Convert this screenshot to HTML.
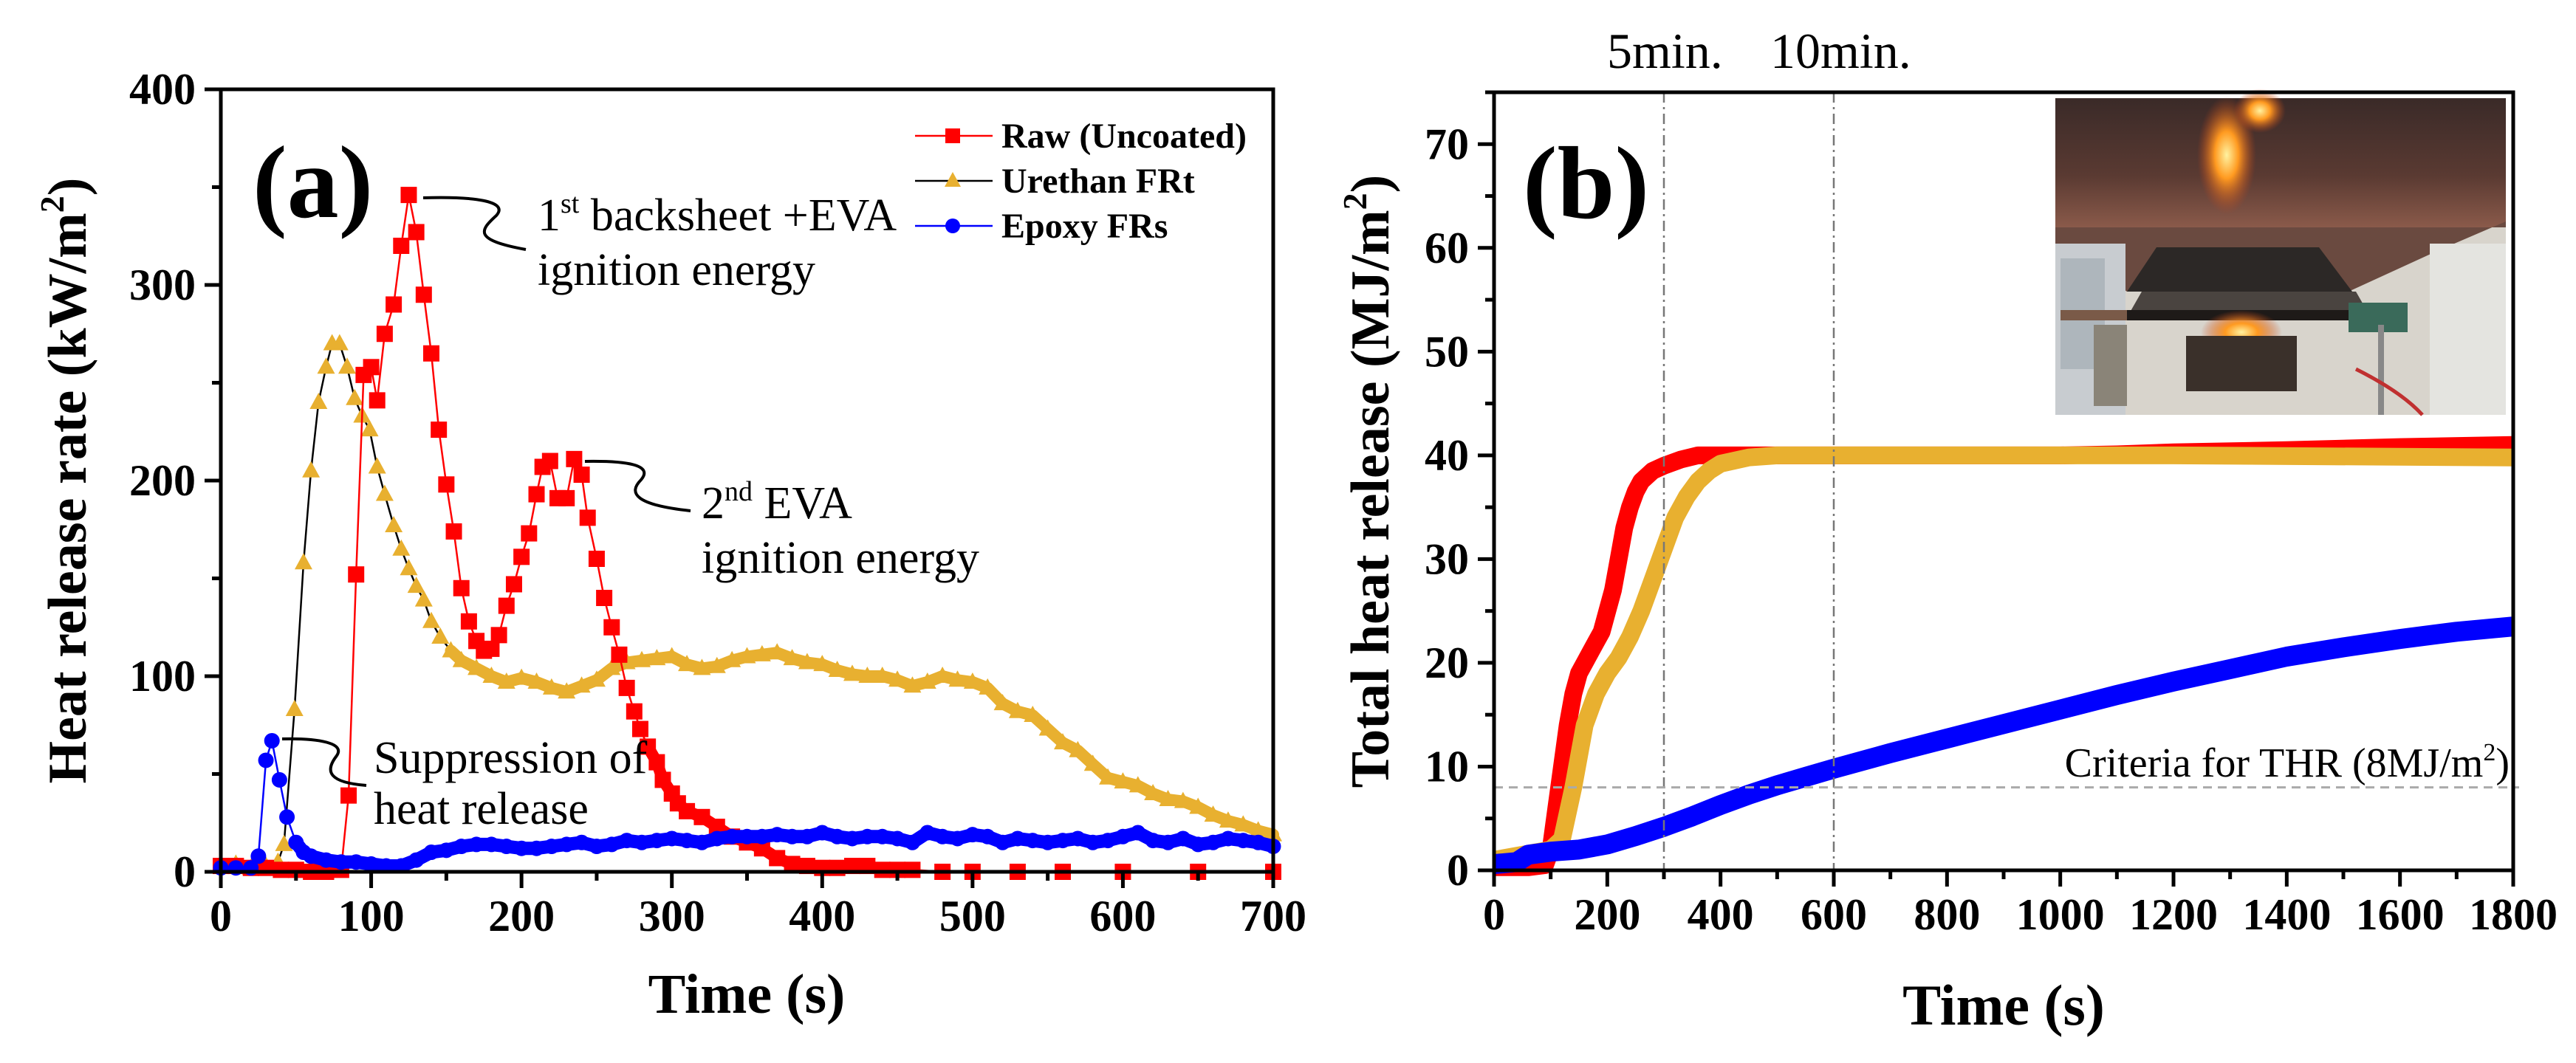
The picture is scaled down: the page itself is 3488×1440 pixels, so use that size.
<!DOCTYPE html>
<html><head><meta charset="utf-8">
<style>
html,body{margin:0;padding:0;background:#fff;}
svg{display:block;font-family:"Liberation Serif","Times New Roman",serif;}
</style></head>
<body>
<svg id="fig" width="3488" height="1440" viewBox="0 0 3488 1440" xmlns="http://www.w3.org/2000/svg">
  <defs>
    <linearGradient id="hood" x1="0" y1="0" x2="0" y2="1">
      <stop offset="0" stop-color="#3a2a28"/><stop offset="0.6" stop-color="#5a3a32"/><stop offset="1" stop-color="#8a5a4a"/>
    </linearGradient>
    <radialGradient id="flame" cx="0.5" cy="0.5" r="0.5">
      <stop offset="0" stop-color="#fff2a0"/><stop offset="0.4" stop-color="#ff9a20"/><stop offset="1" stop-color="#c0401a" stop-opacity="0"/>
    </radialGradient>
  </defs>
  <g id="panelA"></g>
  <g id="panelB"></g>
</svg>
<script>
// ---------- Panel (a) data ----------
const rawT = [0,10,20,30,40,50,60,70,80,85,90,95,100,104,109,115,120,125,130,135,140,145,150,155,160,165,170,175,180,185,190,195,200,205,210,214,219,224,230,235,240,244,250,255,260,265,270,275,279,284,290,294,300,304,310,320,330,340,350,360,370,380,390,400,410,420,430,440,450,460,480,500,530,560,600,650,700];
const rawV = [3,3,2,2,1,1,0,0,1,39,152,254,258,241,275,290,320,346,327,295,265,226,198,174,145,128,118,113,114,121,136,147,161,173,193,207,210,191,191,211,203,181,160,140,125,111,94,82,73,64,56,47,40,35,31,28,23,18,15,12,7,4,3,2,2,3,3,1,1,1,0,0,0,0,0,0,0];
const ureT = [0,10,20,30,38,42,49,55,60,65,70,74,79,84,89,94,99,104,109,115,120,125,130,135,140,146,153,160,170,180,190,200,210,220,230,240,250,260,270,280,290,300,310,320,330,340,350,360,370,380,390,400,410,420,430,440,450,460,470,480,490,500,510,520,530,540,550,560,570,580,590,600,610,620,630,640,650,660,670,680,690,700];
const ureV = [3,4,2,3,5,14,83,158,205,240,258,270,270,258,242,233,226,207,193,177,165,155,146,139,128,120,113,108,104,100,97,99,97,94,92,95,98,104,107,108,109,110,106,104,105,108,110,111,112,109,107,106,103,101,100,100,98,95,97,100,98,97,94,86,82,80,73,66,62,55,48,46,44,40,37,36,33,29,26,24,21,19];
const epoT = [0,10,20,25,30,34,39,44,50,55,60,70,80,90,100,110,120,130,140,150,160,170,180,190,200,210,220,230,240,250,260,270,280,290,300,310,320,330,340,350,360,370,380,390,400,410,420,430,440,450,460,470,480,490,500,510,520,530,540,550,560,570,580,590,600,610,620,630,640,650,660,670,680,690,700];
const epoV = [2,2,2,8,57,67,47,28,15,10,8,6,5,5,4,3,3,6,10,11,13,14,14,13,12,12,13,14,15,13,14,16,15,16,17,16,15,17,18,18,18,19,18,18,20,18,17,18,18,17,15,20,18,17,19,18,15,17,16,15,16,17,15,16,18,20,16,15,17,14,15,17,16,15,13];
const aXTicks = [0,100,200,300,400,500,600,700];
const aYTicks = [0,100,200,300,400];
const legendLabels = ["Raw (Uncoated)","Urethan FRt","Epoxy FRs"];

// ---------- Panel (b) data ----------
const thrRawT = [0,60,90,100,110,120,130,140,150,160,170,180,190,200,210,220,230,240,250,260,280,300,330,360,400,600,800,1000,1100,1200,1400,1600,1800];
const thrRawV = [0.3,0.3,0.5,2,6,10,14,17,19,20,21,22,23,25,27,30,33,35,36.5,37.5,38.5,39,39.6,40,40,40,40,40,40.1,40.3,40.5,40.8,41];
const thrUreT = [0,50,100,120,140,160,180,200,220,240,260,280,300,320,340,360,380,400,450,500,800,1200,1800];
const thrUreV = [1,1.5,2,3,8,14,17,19,20.5,22.5,25,28,31,34,36,37.5,38.5,39.2,39.8,40,40,40,39.8];
const thrEpoT = [0,40,60,100,150,200,250,300,350,400,450,500,550,600,700,800,900,1000,1100,1200,1300,1400,1500,1600,1700,1800];
const thrEpoV = [0.6,0.8,1.5,1.8,2,2.5,3.3,4.2,5.2,6.3,7.3,8.2,9,9.8,11.3,12.7,14.1,15.5,16.9,18.2,19.4,20.6,21.5,22.3,23,23.5];
const bXTicks = [0,200,400,600,800,1000,1200,1400,1600,1800];
const bYTicks = [0,10,20,30,40,50,60,70];
const thrCriteria = [8];
const markLines = [300,600];

const NS = "http://www.w3.org/2000/svg";
function mk(tag, attrs, parent){const e=document.createElementNS(NS,tag);for(const k in attrs)e.setAttribute(k,attrs[k]);if(parent)parent.appendChild(e);return e;}

// ---------- Panel A ----------
const A = document.getElementById('panelA');
const aL=299,aR=1724,aT=121,aB=1181;
const ax = t => aL + (t/700)*(aR-aL);
const ay = v => aB - (v/400)*(aB-aT);

function lineSeries(parent,T,V,xf,yf,color,w,name){
  const pts=T.map((t,i)=>xf(t).toFixed(1)+','+yf(V[i]).toFixed(1)).join(' ');
  const pl=mk('polyline',{points:pts,fill:'none',stroke:color,'stroke-width':w,'stroke-linejoin':'round','stroke-linecap':'round'},parent);
  
  
  return pl;
}
function rangeSeries(parent,T,V,t0,t1,color,w,name){
  const idx=T.map((t,i)=>i).filter(i=>T[i]>=t0&&T[i]<=t1);
  return lineSeries(parent,idx.map(i=>T[i]),idx.map(i=>V[i]),ax,ay,color,w,name);
}
const gU = mk('g',{},A);


lineSeries(gU,ureT,ureV,ax,ay,'#000',2.5,'urethan-line');
rangeSeries(gU,ureT,ureV,150,700,'#e8b030',16,'urethan-dense-band');
ureT.forEach((t,i)=>{
  const x=ax(t),y=ay(ureV[i]);
  const p=mk('polygon',{points:`${x},${y-13} ${x-12},${y+9} ${x+12},${y+9}`,fill:'#e8b030'},gU);
  
  
});
const gR = mk('g',{},A);


lineSeries(gR,rawT,rawV,ax,ay,'#ff0000',2.5,'raw-line');
rangeSeries(gR,rawT,rawV,280,460,'#ff0000',16,'raw-dense-band');
rawT.forEach((t,i)=>{
  const r=mk('rect',{x:ax(t)-11,y:ay(rawV[i])-11,width:22,height:22,fill:'#ff0000'},gR);
  
  
});
const gE = mk('g',{},A);


lineSeries(gE,epoT,epoV,ax,ay,'#0000ff',2.5,'epoxy-line');
rangeSeries(gE,epoT,epoV,50,700,'#0000ff',18,'epoxy-dense-band');
epoT.forEach((t,i)=>{
  const c=mk('circle',{cx:ax(t),cy:ay(epoV[i]),r:10.5,fill:'#0000ff'},gE);
  
  
});

mk('rect',{x:aL,y:aT,width:aR-aL,height:aB-aT,fill:'none',stroke:'#000','stroke-width':5},A);
aXTicks.forEach(t=>{
  const x=ax(t);
  mk('line',{x1:x,y1:aB,x2:x,y2:aB+22,stroke:'#000','stroke-width':5},A);
  const tx=mk('text',{x:x,y:aB+80,'font-size':60,'font-weight':'bold','text-anchor':'middle'},A);
  tx.textContent=t;
  
  
  if(t<700){const xm=ax(t+50);mk('line',{x1:xm,y1:aB,x2:xm,y2:aB+12,stroke:'#000','stroke-width':5},A);}
});
aYTicks.forEach(v=>{
  const y=ay(v);
  mk('line',{x1:aL,y1:y,x2:aL-22,y2:y,stroke:'#000','stroke-width':5},A);
  const tx=mk('text',{x:aL-34,y:y+20,'font-size':60,'font-weight':'bold','text-anchor':'end'},A);
  tx.textContent=v;
  
  
  if(v<400){const ym=ay(v+50);mk('line',{x1:aL,y1:ym,x2:aL-12,y2:ym,stroke:'#000','stroke-width':5},A);}
});
</script>
<script>
(function(){
const A=document.getElementById('panelA');
A.insertAdjacentHTML('beforeend',`
<text x="1011" y="1372" font-size="76" font-weight="bold" text-anchor="middle">Time (s)</text>
<text transform="translate(116,651) rotate(-90)" font-size="74" font-weight="bold" text-anchor="middle">Heat release rate (kW/m<tspan font-size="46" dy="-30">2</tspan><tspan dy="30">)</tspan></text>
<text x="342" y="294" font-size="140" font-weight="bold">(a)</text>
<g>
 <g><line x1="1239" y1="184" x2="1344" y2="184" stroke="#ff0000" stroke-width="2.5"/><rect x="1280" y="174" width="20" height="20" fill="#ff0000"/>
 <text x="1356" y="200" font-size="48" font-weight="bold">Raw (Uncoated)</text></g>
 <g><line x1="1239" y1="245" x2="1344" y2="245" stroke="#000" stroke-width="2.5"/><polygon points="1290,233 1279,253 1301,253" fill="#e8b030"/>
 <text x="1356" y="261" font-size="48" font-weight="bold">Urethan FRt</text></g>
 <g><line x1="1239" y1="306" x2="1344" y2="306" stroke="#0000ff" stroke-width="2.5"/><circle cx="1290" cy="306" r="10" fill="#0000ff"/>
 <text x="1356" y="322" font-size="48" font-weight="bold">Epoxy FRs</text></g>
</g>
<g>
 <path d="M573,268 C640,266 690,272 672,292 C650,312 640,325 712,338" fill="none" stroke="#000" stroke-width="4"/>
 <text x="728" y="312" font-size="62">1<tspan font-size="38" dy="-24">st</tspan><tspan dy="24"> backsheet +EVA</tspan></text>
 <text x="728" y="386" font-size="62">ignition energy</text>
</g>
<g>
 <path d="M792,625 C850,624 885,630 868,650 C850,668 860,684 935,692" fill="none" stroke="#000" stroke-width="4"/>
 <text x="950" y="702" font-size="62">2<tspan font-size="38" dy="-24">nd</tspan><tspan dy="24"> EVA</tspan></text>
 <text x="950" y="776" font-size="62">ignition energy</text>
</g>
<g>
 <path d="M382,1001 C430,1000 470,1006 455,1025 C440,1045 445,1060 496,1064" fill="none" stroke="#000" stroke-width="4"/>
 <text x="506" y="1047" font-size="62">Suppression of</text>
 <text x="506" y="1116" font-size="62">heat release</text>
</g>`);
})();
</script>
<script>
(function(){
const B=document.getElementById('panelB');
const bL=2023,bR=3403,bT=125,bB=1179;
const bx=t=>bL+(t/1800)*(bR-bL);
const by=v=>bB-(v/75)*(bB-bT);
B.insertAdjacentHTML('beforeend',`
<g>
 <rect x="2783" y="133" width="610" height="429" fill="#d8d4cc"/>
 <rect x="2783" y="133" width="610" height="175" fill="url(#hood)"/>
 <polygon points="2783,308 3393,308 3393,300 3300,340 3180,395 2880,395 2783,330" fill="#6a4a40"/>
 <rect x="2783" y="330" width="95" height="232" fill="#c8ccd0"/>
 <rect x="2790" y="350" width="60" height="150" fill="#aeb6bc"/>
 <ellipse cx="3015" cy="210" rx="40" ry="80" fill="url(#flame)"/>
 <ellipse cx="3060" cy="150" rx="35" ry="30" fill="url(#flame)"/>
 <polygon points="2920,335 3140,335 3185,395 2880,395" fill="#2c2826"/>
 <polygon points="2900,395 3190,395 3210,430 2880,430" fill="#4a4440"/>
 <rect x="2870" y="420" width="310" height="14" fill="#1e1a18"/>
 <rect x="2790" y="420" width="90" height="14" fill="#7a5a48"/>
 <ellipse cx="3035" cy="450" rx="55" ry="30" fill="url(#flame)"/>
 <rect x="2835" y="440" width="45" height="110" fill="#8a8478"/>
 <rect x="2960" y="455" width="150" height="75" fill="#3a302a"/>
 <rect x="3180" y="410" width="80" height="40" fill="#3a6a5a"/>
 <rect x="3220" y="440" width="8" height="122" fill="#888"/>
 <path d="M3190,500 C3230,520 3260,540 3280,562" stroke="#c03030" stroke-width="5" fill="none"/>
 <rect x="3290" y="330" width="103" height="232" fill="#e4e4e0"/>
</g>`);
function band(T,V,color,w,name){
  const pts=T.map((t,i)=>bx(t).toFixed(1)+','+by(V[i]).toFixed(1)).join(' ');
  const pl=mk('polyline',{points:pts,fill:'none',stroke:color,'stroke-width':w,'stroke-linejoin':'round','stroke-linecap':'butt'},B);
  
  
}
band(thrRawT,thrRawV,'#ff0000',24,'thr-raw-series');
band(thrUreT,thrUreV,'#e8b030',24,'thr-urethan-series');
band(thrEpoT,thrEpoV,'#0000ff',27,'thr-epoxy-series');
markLines.forEach(t=>{
  const l=mk('line',{x1:bx(t),y1:bT,x2:bx(t),y2:bB,stroke:'#777','stroke-width':2.5,'stroke-dasharray':'14 6 3 6'},B);
  
  
});
thrCriteria.forEach(v=>{
  const l=mk('line',{x1:bL,y1:by(v),x2:bR+8,y2:by(v),stroke:'#aaa','stroke-width':3,'stroke-dasharray':'12 8'},B);
  
  
});
mk('rect',{x:bL,y:bT,width:bR-bL,height:bB-bT,fill:'none',stroke:'#000','stroke-width':5},B);
bXTicks.forEach(t=>{
  const x=bx(t);
  mk('line',{x1:x,y1:bB,x2:x,y2:bB+22,stroke:'#000','stroke-width':5},B);
  const tx=mk('text',{x:x,y:bB+80,'font-size':60,'font-weight':'bold','text-anchor':'middle'},B);
  tx.textContent=t;
  
  
  if(t<1800){const xm=bx(t+100);mk('line',{x1:xm,y1:bB,x2:xm,y2:bB+12,stroke:'#000','stroke-width':5},B);}
});
bYTicks.forEach(v=>{
  const y=by(v);
  mk('line',{x1:bL,y1:y,x2:bL-22,y2:y,stroke:'#000','stroke-width':5},B);
  const tx=mk('text',{x:bL-34,y:y+20,'font-size':60,'font-weight':'bold','text-anchor':'end'},B);
  tx.textContent=v;
  
  
  const ym=by(v+5);mk('line',{x1:bL,y1:ym,x2:bL-12,y2:ym,stroke:'#000','stroke-width':5},B);
});
B.insertAdjacentHTML('beforeend',`
<text x="2713" y="1388" font-size="78" font-weight="bold" text-anchor="middle">Time (s)</text>
<text transform="translate(1880,652) rotate(-90)" font-size="74" font-weight="bold" text-anchor="middle">Total heat release (MJ/m<tspan font-size="46" dy="-30">2</tspan><tspan dy="30">)</tspan></text>
<text x="2062" y="295" font-size="140" font-weight="bold">(b)</text>
<text x="2176" y="92" font-size="68">5min.</text>
<text x="2397" y="92" font-size="68">10min.</text>
<text x="3398" y="1052" font-size="56" text-anchor="end">Criteria for THR (8MJ/m<tspan font-size="34" dy="-22">2</tspan><tspan dy="22">)</tspan></text>
`);
})();
</script>
</body></html>
